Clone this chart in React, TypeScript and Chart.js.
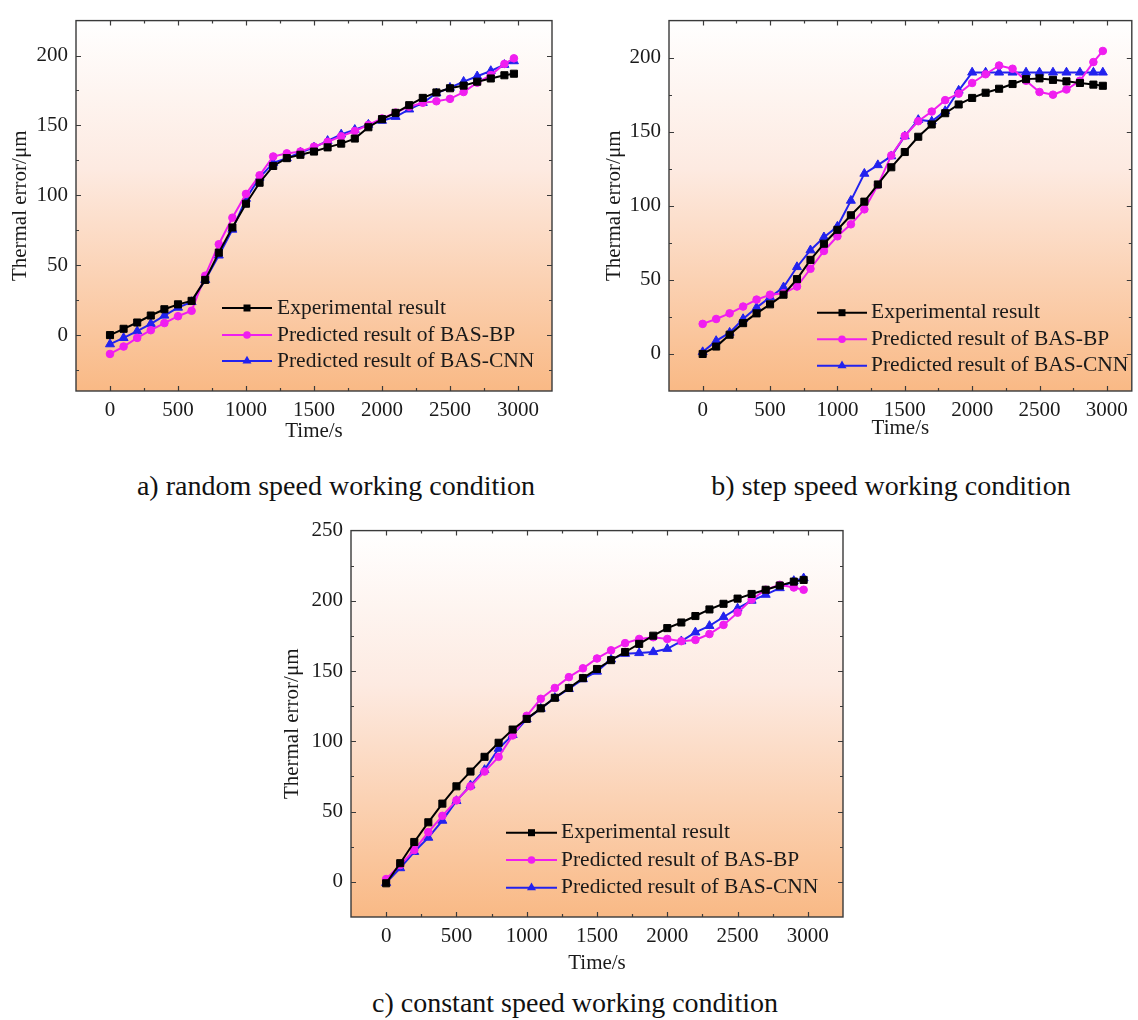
import React, { useEffect, useRef } from 'react';
import { Chart, registerables } from 'chart.js';

Chart.register(...registerables);

// ---------------- data ----------------
const TIME = [0, 100, 200, 300, 400, 500, 600, 700, 800, 900, 1000, 1100, 1200, 1300, 1400, 1500, 1600, 1700, 1800, 1900, 2000, 2100, 2200, 2300, 2400, 2500, 2600, 2700, 2800, 2900, 2970];

// a) random speed working condition
const A_EXP = [0, 4.5, 9, 14, 18.5, 22, 24.5, 39.5, 59, 77, 94, 109, 121, 126.6, 129, 131.3, 134.3, 137, 140.6, 148.7, 154.5, 159, 164.5, 169.7, 173.6, 176.6, 178.5, 181.3, 183.6, 185.9, 187];
const A_BP = [-13.5, -8.2, -2, 3.5, 8.6, 13.5, 17.4, 42.5, 65, 84, 101, 114.3, 127.8, 130, 131.3, 134.8, 138.3, 142.2, 146, 150.4, 155, 159.2, 163.4, 166.2, 167.3, 169, 173.9, 180.6, 186, 194, 198];
const A_CNN = [-6.5, -2, 2.8, 8.1, 14, 19.7, 23.7, 39.5, 57, 75.5, 97.6, 112.7, 123.2, 126.6, 130.6, 134.3, 139, 143.6, 146.9, 150.6, 153.4, 156.2, 161.5, 166.2, 173, 177, 181.3, 185.2, 189, 193.4, 196];

// b) step speed working condition
const B_EXP = [0, 5, 13, 20.8, 27.4, 33.5, 40, 50.5, 63.5, 74.4, 83.8, 93.6, 102.8, 114.4, 126, 136.3, 146.6, 154.9, 162.5, 168.4, 172.8, 176.3, 179, 182.2, 185.5, 186, 185, 184, 182.9, 181.8, 181];
const B_BP = [20.3, 23.6, 27.4, 32, 36.7, 40, 41, 45.5, 57.5, 69.5, 79.4, 87.5, 97.6, 114, 134, 147.2, 157.1, 163.6, 171.3, 175.7, 182.9, 188.8, 194.7, 192.5, 184.4, 176.8, 175, 178.5, 184.4, 197, 204.5];
const B_CNN = [1.3, 8.8, 14.4, 23.6, 31.3, 38.3, 45, 58.7, 70, 78.8, 86, 103.5, 121.7, 127.5, 133.5, 147, 158, 157, 164, 177.8, 190, 190, 190, 190, 190, 190, 190, 190, 190, 190, 190];

// c) constant speed working condition
const C_EXP = [-1, 13.3, 28.4, 42.4, 55.7, 68, 78.5, 89, 99, 108.4, 116, 123.5, 131, 138, 145, 151.5, 157.8, 163.6, 169.4, 175.2, 180.6, 184.6, 189.2, 193.9, 197.9, 201.6, 204.9, 207.9, 210.9, 213.7, 214.9];
const C_BP = [2, 12, 22.6, 35.4, 47, 58, 68, 78.5, 89, 104.2, 118.2, 130.3, 138, 145.7, 152, 159, 164.8, 169.9, 172.9, 174.1, 172.9, 171.3, 172.2, 176.4, 182.9, 191.6, 200.9, 207.9, 211.4, 209.5, 207.9];
const C_CNN = [-0.7, 9.8, 21.4, 31.5, 43.6, 57.6, 68.7, 79.7, 94.8, 104.6, 115.8, 123.3, 131, 137.3, 144.3, 149.7, 158.3, 162.4, 162.9, 163.6, 165.9, 171.3, 177.6, 182.2, 188.5, 194.6, 200.2, 204.4, 209.1, 214.2, 216.1];

const X_TICKS = [0, 500, 1000, 1500, 2000, 2500, 3000];
const Y_TICKS_AB = [0, 50, 100, 150, 200];
const Y_TICKS_C = [0, 50, 100, 150, 200, 250];

const SERIES_NAMES = ['Experimental result', 'Predicted result of BAS-BP', 'Predicted result of BAS-CNN'];
const CAPTIONS = ['a) random speed working condition', 'b) step speed working condition', 'c) constant speed working condition'];
const X_TITLE = 'Time/s';
const Y_TITLE = 'Thermal error/μm';

// ---------------- style ----------------
const SERIF = "'Liberation Serif', 'Times New Roman', serif";
const COLORS = ['#000000', '#F01EF0', '#2222EE'];
const POINT_STYLES = ['rect', 'circle', 'triangle'];
const POINT_RADII = [5, 3.8, 5.2];

type PanelCfg = {
  left: number; top: number; w: number; h: number;
  yAxisW: number; xAxisH: number; padTop: number; padRight: number;
  xMin: number; xMax: number; yMin: number; yMax: number;
  yTicks: number[];
  yTitlePad: number; xTitlePad: number;
  legend: { x0: number; x1: number; tx: number; rows: number[] };
  series: number[][];
};

const framePlugin = {
  id: 'frame',
  beforeDatasetsDraw(chart: any) {
    const { ctx, chartArea } = chart;
    const { left, top, right, bottom } = chartArea;
    const g = ctx.createLinearGradient(0, top, 0, bottom);
    g.addColorStop(0, '#FFFFFF');
    g.addColorStop(0.4, '#FDEAE1');
    g.addColorStop(1, '#F9B985');
    ctx.save();
    ctx.fillStyle = g;
    ctx.fillRect(left, top, right - left, bottom - top);
    ctx.restore();
  },
  afterDatasetsDraw(chart: any, _args: any, opts: any) {
    const { ctx, chartArea, scales } = chart;
    const { left, top, right, bottom } = chartArea;
    const xs = scales.x;
    const ys = scales.y;
    ctx.save();
    ctx.strokeStyle = '#3a3a3a';
    ctx.lineWidth = 1.4;
    ctx.strokeRect(left, top, right - left, bottom - top);
    ctx.lineWidth = 1.2;
    ctx.beginPath();
    for (let v = Math.ceil(xs.min / 250) * 250; v <= xs.max + 0.01; v += 250) {
      const px = Math.round(xs.getPixelForValue(v)) + 0.5;
      if (px <= left + 1 || px >= right - 1) continue;
      const len = v % 500 === 0 ? 5 : 3;
      ctx.moveTo(px, bottom); ctx.lineTo(px, bottom - len);
      ctx.moveTo(px, top); ctx.lineTo(px, top + len);
    }
    for (let v = Math.ceil(ys.min / 25) * 25; v <= ys.max + 0.01; v += 25) {
      const py = Math.round(ys.getPixelForValue(v)) + 0.5;
      if (py <= top + 1 || py >= bottom - 1) continue;
      const len = v % 50 === 0 ? 5 : 3;
      ctx.moveTo(left, py); ctx.lineTo(left + len, py);
      ctx.moveTo(right, py); ctx.lineTo(right - len, py);
    }
    ctx.stroke();

    // legend
    const lg = opts.legend;
    chart.data.datasets.forEach((ds: any, i: number) => {
      const y = lg.rows[i];
      ctx.strokeStyle = ds.borderColor;
      ctx.lineWidth = 2;
      ctx.beginPath();
      ctx.moveTo(lg.x0, y); ctx.lineTo(lg.x1, y);
      ctx.stroke();
      const cx = (lg.x0 + lg.x1) / 2;
      ctx.fillStyle = ds.borderColor;
      ctx.beginPath();
      if (ds.pointStyle === 'rect') {
        ctx.rect(cx - 3.5, y - 3.5, 7, 7);
      } else if (ds.pointStyle === 'circle') {
        ctx.arc(cx, y, 3.8, 0, Math.PI * 2);
      } else {
        const r = 5.2;
        ctx.moveTo(cx, y - r);
        ctx.lineTo(cx + r * 0.866, y + r * 0.5);
        ctx.lineTo(cx - r * 0.866, y + r * 0.5);
        ctx.closePath();
      }
      ctx.fill();
      ctx.fillStyle = '#1a1a1a';
      ctx.font = `21.5px ${SERIF}`;
      ctx.textBaseline = 'middle';
      ctx.textAlign = 'left';
      ctx.fillText(ds.label, lg.tx, y);
    });
    ctx.restore();
  },
};

function Panel({ cfg }: { cfg: PanelCfg }) {
  const ref = useRef<HTMLCanvasElement | null>(null);
  useEffect(() => {
    if (!ref.current) return;
    const legend = {
      x0: cfg.legend.x0 - cfg.left,
      x1: cfg.legend.x1 - cfg.left,
      tx: cfg.legend.tx - cfg.left,
      rows: cfg.legend.rows.map((r) => r - cfg.top),
    };
    const chart = new Chart(ref.current, {
      type: 'line',
      data: {
        datasets: cfg.series.map((vals, i) => ({
          label: SERIES_NAMES[i],
          data: TIME.map((t, k) => ({ x: t, y: vals[k] })),
          borderColor: COLORS[i],
          backgroundColor: COLORS[i],
          pointBackgroundColor: COLORS[i],
          pointBorderColor: COLORS[i],
          pointStyle: POINT_STYLES[i],
          pointRadius: POINT_RADII[i],
          pointBorderWidth: 1,
          borderWidth: 2,
          tension: 0,
          fill: false,
        })),
      },
      options: {
        animation: false,
        responsive: false,
        maintainAspectRatio: false,
        layout: { padding: { top: cfg.padTop, right: cfg.padRight, left: 0, bottom: 0 } },
        plugins: {
          legend: { display: false },
          tooltip: { enabled: false },
          frame: { legend },
        } as any,
        scales: {
          x: {
            type: 'linear',
            min: cfg.xMin,
            max: cfg.xMax,
            afterBuildTicks: (s: any) => { s.ticks = X_TICKS.map((v) => ({ value: v })); },
            afterFit: (s: any) => { s.height = cfg.xAxisH; },
            grid: { display: false, drawTicks: false },
            border: { display: false },
            ticks: { font: { family: SERIF, size: 21 }, color: '#1a1a1a', padding: 7, maxRotation: 0, autoSkip: false, callback: (v: any) => String(v) },
            title: { display: true, text: X_TITLE, font: { family: SERIF, size: 21 }, color: '#1a1a1a', padding: { top: 0, bottom: cfg.xTitlePad } },
          },
          y: {
            type: 'linear',
            min: cfg.yMin,
            max: cfg.yMax,
            afterBuildTicks: (s: any) => { s.ticks = cfg.yTicks.map((v) => ({ value: v })); },
            afterFit: (s: any) => { s.width = cfg.yAxisW; },
            grid: { display: false, drawTicks: false },
            border: { display: false },
            ticks: { font: { family: SERIF, size: 21 }, color: '#1a1a1a', padding: 8, autoSkip: false, callback: (v: any) => String(v) },
            title: { display: true, text: Y_TITLE, font: { family: SERIF, size: 21 }, color: '#1a1a1a', padding: { top: cfg.yTitlePad, bottom: 0 } },
          },
        },
      } as any,
      plugins: [framePlugin as any],
    });
    return () => chart.destroy();
  }, [cfg]);
  return (
    <canvas
      ref={ref}
      width={cfg.w}
      height={cfg.h}
      style={{ position: 'absolute', left: cfg.left, top: cfg.top, width: cfg.w, height: cfg.h }}
    />
  );
}

const PANEL_A: PanelCfg = {
  left: 0, top: 0, w: 560, h: 450,
  yAxisW: 76, xAxisH: 59, padTop: 10, padRight: 8,
  xMin: -250, xMax: 3250, yMin: -40, yMax: 225, yTicks: Y_TICKS_AB,
  yTitlePad: 8, xTitlePad: 6,
  legend: { x0: 222, x1: 272, tx: 277, rows: [308, 335, 361] },
  series: [A_EXP, A_BP, A_CNN],
};

const PANEL_B: PanelCfg = {
  left: 590, top: 0, w: 548, h: 450,
  yAxisW: 79, xAxisH: 59, padTop: 10, padRight: 1,
  xMin: -250, xMax: 3185, yMin: -25, yMax: 225, yTicks: Y_TICKS_AB,
  yTitlePad: 12, xTitlePad: 9,
  legend: { x0: 817, x1: 867, tx: 871, rows: [312.7, 339.3, 365.7] },
  series: [B_EXP, B_BP, B_CNN],
};

const PANEL_C: PanelCfg = {
  left: 270, top: 510, w: 590, h: 470,
  yAxisW: 81, xAxisH: 63, padTop: 15, padRight: 17,
  xMin: -250, xMax: 3250, yMin: -25, yMax: 250, yTicks: Y_TICKS_C,
  yTitlePad: 10, xTitlePad: 4,
  legend: { x0: 506, x1: 557, tx: 561, rows: [832.7, 860, 887.7] },
  series: [C_EXP, C_BP, C_CNN],
};

const captionStyle = (left: number, top: number, width: number): React.CSSProperties => ({
  position: 'absolute', left, top, width, textAlign: 'center',
  fontFamily: SERIF, fontSize: 28, lineHeight: '32px', color: '#111', whiteSpace: 'nowrap',
});

export default function App() {
  return (
    <div style={{ position: 'absolute', left: 0, top: 0, width: 1138, height: 1020, background: '#fff', overflow: 'hidden' }}>
      <Panel cfg={PANEL_A} />
      <Panel cfg={PANEL_B} />
      <Panel cfg={PANEL_C} />
      <div style={captionStyle(86, 470, 500)}>{CAPTIONS[0]}</div>
      <div style={captionStyle(641, 470, 500)}>{CAPTIONS[1]}</div>
      <div style={captionStyle(325, 987, 500)}>{CAPTIONS[2]}</div>
    </div>
  );
}
